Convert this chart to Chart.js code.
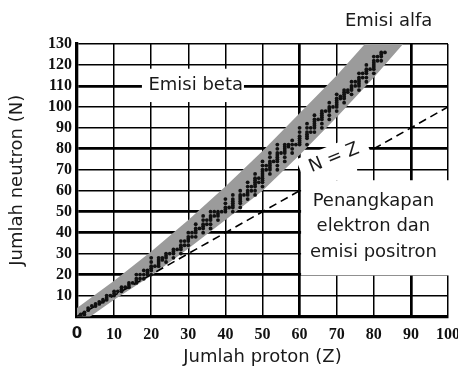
<!DOCTYPE html>
<html>
<head>
<meta charset="utf-8">
<script src="https://cdn.jsdelivr.net/npm/chart.js@4.4.1/dist/chart.umd.min.js"></script>
<style>
  body { margin: 0; background: #fff; }
  #wrap { width: 458px; height: 370px; }
</style>
</head>
<body>
<div id="wrap"><canvas id="chart" width="458" height="370"></canvas></div>
<script>

// stable nuclides: proton number and neutron numbers of its stable isotopes
const protonZ = [1, 2, 3, 4, 5, 6, 7, 8, 9, 10, 11, 12, 13, 14, 15, 16, 17, 18, 19, 20,
    21, 22, 23, 24, 25, 26, 27, 28, 29, 30, 31, 32, 33, 34, 35, 36, 37, 38, 39, 40,
    41, 42, 44, 45, 46, 47, 48, 49, 50, 51, 52, 53, 54, 55, 56, 57, 58, 59, 60,
    62, 63, 64, 65, 66, 67, 68, 69, 70, 71, 72, 73, 74, 75, 76, 77, 78, 79, 80, 81, 82, 83];

const neutronN = [
    [0, 1], [1, 2], [3, 4], [5], [5, 6], [6, 7], [7, 8], [8, 9, 10], [10], [10, 11, 12],
    [12], [12, 13, 14], [14], [14, 15, 16], [16], [16, 17, 18, 20], [18, 20], [18, 20, 22], [20, 21, 22], [20, 22, 23, 24, 26, 28],
    [24], [24, 25, 26, 27, 28], [27, 28], [26, 28, 29, 30], [30], [28, 30, 31, 32], [32], [30, 32, 33, 34, 36], [34, 36], [34, 36, 37, 38, 40],
    [38, 40], [38, 40, 41, 42, 44], [42], [40, 42, 43, 44, 46, 48], [44, 46], [42, 44, 46, 47, 48, 50], [48, 50], [46, 48, 49, 50], [50], [50, 51, 52, 54, 56],
    [52], [50, 52, 53, 54, 55, 56, 58], [52, 54, 55, 56, 57, 58, 60], [58], [56, 58, 59, 60, 62, 64], [60, 62], [58, 60, 62, 63, 64, 65, 66, 68], [64, 66], [62, 64, 65, 66, 67, 68, 69, 70, 72, 74],
    [70, 72], [68, 70, 71, 72, 73, 74, 76, 78], [74], [70, 72, 74, 75, 76, 77, 78, 80, 82], [78], [74, 76, 78, 79, 80, 81, 82], [81, 82], [78, 80, 82, 84], [82], [82, 83, 84, 85, 86, 88, 90],
    [82, 85, 86, 87, 88, 90, 92], [88, 90], [88, 90, 91, 92, 93, 94, 96], [94], [90, 92, 94, 95, 96, 97, 98], [98], [94, 96, 98, 99, 100, 102], [100], [98, 100, 101, 102, 103, 104, 106],
    [104, 105], [102, 104, 105, 106, 107, 108], [107, 108], [106, 108, 109, 110, 112], [110, 112], [108, 110, 111, 112, 113, 114, 116], [114, 116], [112, 114, 116, 117, 118, 120], [118],
    [116, 118, 119, 120, 121, 122, 124], [122, 124], [122, 124, 125, 126], [126]
];

// grey stability belt
const bandUpperZ = [0, 10, 20, 30, 40, 50, 60, 70, 77.6, 83.6];
const bandUpperN = [4, 17, 31, 46, 62, 79, 97, 115, 130, 141];
const bandLowerZ = [0, 10, 20, 29.6, 40, 50, 60, 70, 80, 87.9, 93.5];
const bandLowerN = [-4.5, 8, 19.5, 31.8, 46, 60, 77, 95, 114, 130, 141];

// N = Z reference line, broken where its label sits
const lineZ = [0, 60, 70, 80, 100];
const lineN = [0, 60, null, 80, 100];

const xTicks = [0, 10, 20, 30, 40, 50, 60, 70, 80, 90, 100];
const yTicks = [0, 10, 20, 30, 40, 50, 60, 70, 80, 90, 100, 110, 120, 130];
const xThick = [60, 90];
const yThick = [20, 40, 50, 80, 110];

const stablePoints = [];
protonZ.forEach((z, i) => {
    neutronN[i].forEach((n) => stablePoints.push({ x: z, y: n }));
});

const bandPoints = bandUpperZ.map((z, i) => ({ x: z, y: bandUpperN[i] }))
    .concat(bandLowerZ.map((z, i) => ({ x: z, y: bandLowerN[i] })).reverse());

const linePoints = lineZ.map((z, i) => ({ x: z, y: lineN[i] }));

const textColor = "#1a1a1a";
const sans = "'DejaVu Sans', sans-serif";

const annotations = {
    id: "annotations",
    beforeDatasetsDraw(chart) {
        const { ctx, scales: { x, y } } = chart;
        ctx.save();
        ctx.fillStyle = "#fff";

        // behind "Emisi beta"
        ctx.fillRect(x.getPixelForValue(17.5), y.getPixelForValue(118.2),
            x.getPixelForValue(45) - x.getPixelForValue(17.5), y.getPixelForValue(102.3) - y.getPixelForValue(118.2));

        // behind the capture / positron text
        const left = x.getPixelForValue(60.4);
        ctx.fillRect(left, y.getPixelForValue(65), chart.width - left, y.getPixelForValue(19.6) - y.getPixelForValue(65));
        ctx.fillRect(left, y.getPixelForValue(71), x.getPixelForValue(75.5) - left, y.getPixelForValue(65) - y.getPixelForValue(71));

        // behind "N = Z"
        ctx.translate(x.getPixelForValue(69.3), y.getPixelForValue(75.6));
        ctx.rotate(-22 * Math.PI / 180);
        ctx.fillRect(-36, -13, 72, 26);
        ctx.restore();
    },
    afterDatasetsDraw(chart) {
        const { ctx, chartArea, scales: { x, y } } = chart;
        ctx.save();
        ctx.fillStyle = textColor;
        ctx.font = "18px " + sans;
        ctx.textAlign = "center";
        ctx.textBaseline = "middle";

        ctx.fillText("Emisi alfa", x.getPixelForValue(84), chartArea.top - 23);
        ctx.fillText("Emisi beta", x.getPixelForValue(32), y.getPixelForValue(110) - 1);

        const cx = x.getPixelForValue(79.9);
        const cy = y.getPixelForValue(43);
        ctx.fillText("Penangkapan", cx, cy - 25.5);
        ctx.fillText("elektron dan", cx, cy);
        ctx.fillText("emisi positron", cx, cy + 25.5);

        ctx.translate(x.getPixelForValue(69.3), y.getPixelForValue(75.6));
        ctx.rotate(-22 * Math.PI / 180);
        ctx.fillText("N = Z", 0, 0);
        ctx.restore();
    }
};

const tickFont = { family: "'Liberation Serif', serif", size: 16, weight: "bold" };

new Chart(document.getElementById("chart"), {
    type: "line",
    data: {
        datasets: [
            {
                type: "scatter",
                data: stablePoints,
                pointRadius: 1.9,
                pointBackgroundColor: "#111",
                pointBorderWidth: 0
            },
            {
                data: linePoints,
                borderColor: "#000",
                borderWidth: 1.6,
                borderDash: [8, 5],
                pointRadius: 0,
                spanGaps: false,
                fill: false
            },
            {
                data: bandPoints,
                borderColor: "rgba(0,0,0,0)",
                borderWidth: 0,
                backgroundColor: "#9b9b9b",
                pointRadius: 0,
                fill: "shape"
            }
        ]
    },
    options: {
        responsive: false,
        animation: false,
        layout: { padding: { top: 44, right: 10, left: 0, bottom: 0 } },
        plugins: {
            legend: { display: false },
            tooltip: { enabled: false }
        },
        scales: {
            x: {
                type: "linear",
                min: 0,
                max: 100,
                afterBuildTicks: (s) => { s.ticks = xTicks.map((v) => ({ value: v })); },
                ticks: {
                    autoSkip: false,
                    padding: 9,
                    color: "#111",
                    maxRotation: 0,
                    font: (c) => (c.tick && c.tick.value === 0)
                        ? { family: sans, size: 15, weight: "bold" }
                        : tickFont
                },
                grid: {
                    color: "#000",
                    drawTicks: false,
                    lineWidth: (c) => (c.tick && xThick.includes(c.tick.value)) ? 2.7 : 1.5
                },
                border: { color: "#000", width: 3.3 },
                title: {
                    display: true,
                    text: "Jumlah proton (Z)",
                    color: textColor,
                    font: { family: sans, size: 18 },
                    padding: { top: 0, bottom: 2 }
                },
                afterFit: (s) => {
                    s.height = 53.5;
                    s.paddingLeft = 0;
                    s.paddingRight = 10;
                }
            },
            y: {
                type: "linear",
                min: 0,
                max: 130,
                afterBuildTicks: (s) => { s.ticks = yTicks.map((v) => ({ value: v })); },
                ticks: {
                    autoSkip: false,
                    padding: 5,
                    color: "#111",
                    font: tickFont,
                    callback: (v) => v === 0 ? "" : v
                },
                grid: {
                    color: "#000",
                    drawTicks: false,
                    lineWidth: (c) => (c.tick && yThick.includes(c.tick.value)) ? 2.7 : 1.5
                },
                border: { color: "#000", width: 3.3 },
                title: {
                    display: true,
                    text: "Jumlah neutron (N)",
                    color: textColor,
                    font: { family: sans, size: 18 },
                    padding: { top: 7, bottom: 0 }
                },
                afterFit: (s) => { s.width = 77; }
            }
        }
    },
    plugins: [annotations]
});

</script>
</body>
</html>
